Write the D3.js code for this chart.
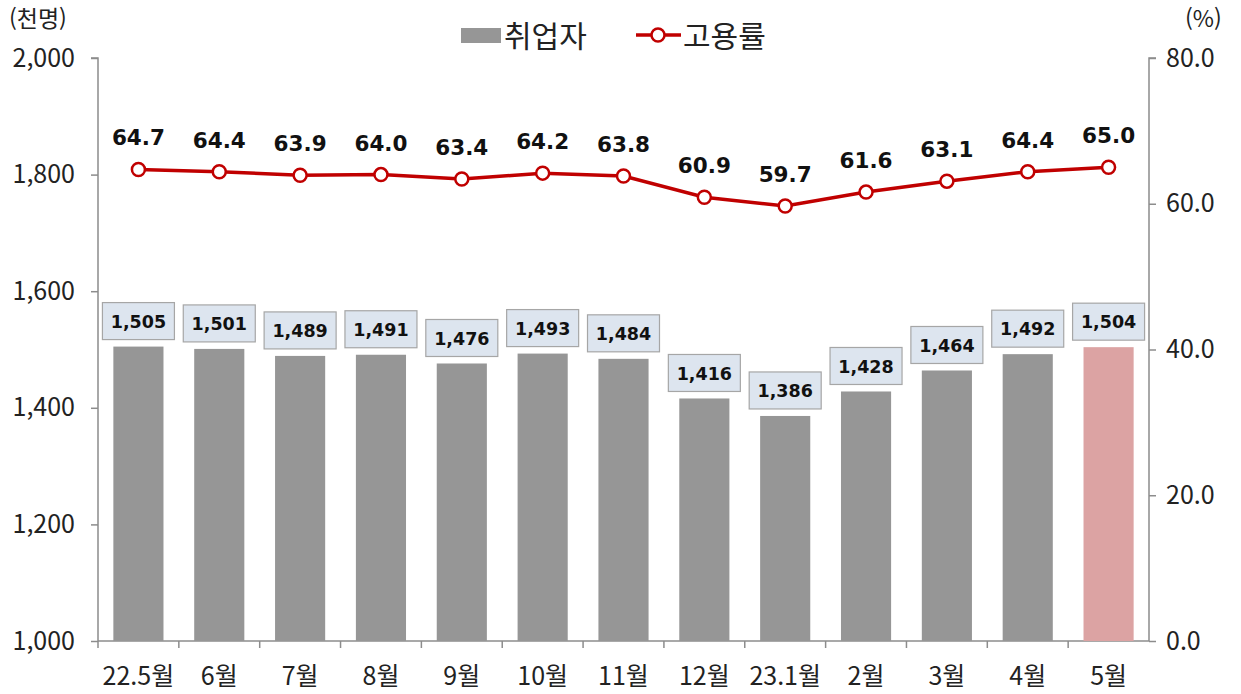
<!DOCTYPE html>
<html lang="ko">
<head>
<meta charset="UTF-8" />
<title>취업자 및 고용률</title>
<style>
  body { margin: 0; background: #fff; }
  svg text { font-family: "Noto Sans CJK KR", "Noto Sans", sans-serif; }
  .axis path, .axis line { stroke: #8c8c8c; stroke-width: 1.5; }
  .axis text { font-size: 25px; fill: #222; }
  .num { font-family: "DejaVu Sans", sans-serif !important; font-weight: bold; fill: #111; }
</style>
</head>
<body>
<svg id="chart" width="1241" height="694"></svg>
<script src="https://cdn.jsdelivr.net/npm/d3@7"></script>
<script>
// data
const months = ["22.5월", "6월", "7월", "8월", "9월", "10월", "11월", "12월", "23.1월", "2월", "3월", "4월", "5월"];
const employed = [1505, 1501, 1489, 1491, 1476, 1493, 1484, 1416, 1386, 1428, 1464, 1492, 1504];
const empRate = [64.7, 64.4, 63.9, 64.0, 63.4, 64.2, 63.8, 60.9, 59.7, 61.6, 63.1, 64.4, 65.0];
const leftTicks = [1000, 1200, 1400, 1600, 1800, 2000];
const rightTicks = [0, 20, 40, 60, 80];

const svg = d3.select("#chart");
const plotL = 98, plotR = 1149, plotT = 58, plotB = 641;

const x = d3.scaleBand().domain(months).range([plotL, plotR]).paddingInner(0.38).paddingOuter(0.19);
const xb = d3.scaleBand().domain(months).range([plotL, plotR]);
const yL = d3.scaleLinear().domain([1000, 2000]).range([plotB, plotT]);
const yR = d3.scaleLinear().domain([0, 80]).range([plotB, plotT]);

// axes
svg.append("g").attr("class", "axis")
  .attr("transform", `translate(${plotL},0)`)
  .call(d3.axisLeft(yL).tickValues(leftTicks).tickFormat(d3.format(",")).tickSize(7).tickPadding(16))
  .select(".domain").attr("d", `M-7,${plotT}H0V${plotB}`);

svg.append("g").attr("class", "axis")
  .attr("transform", `translate(${plotR},0)`)
  .call(d3.axisRight(yR).tickValues(rightTicks).tickFormat(d3.format(".1f")).tickSize(7).tickPadding(10))
  .select(".domain").attr("d", `M7,${plotT}H0V${plotB}`);

// bottom axis, ticks at category boundaries
const xAxis = svg.append("g").attr("class", "axis").attr("transform", `translate(0,${plotB})`);
xAxis.append("line").attr("x1", plotL).attr("x2", plotR).attr("y1", 0).attr("y2", 0);
xAxis.selectAll(".bt").data(months).enter().append("line")
  .attr("x1", d => xb(d)).attr("x2", d => xb(d)).attr("y1", 0).attr("y2", 7);
xAxis.selectAll(".lbl").data(months).enter().append("text")
  .attr("x", d => xb(d) + xb.bandwidth() / 2).attr("y", 44)
  .attr("font-size", 24)
  .attr("text-anchor", "middle").text(d => d);

// bars
svg.selectAll(".bar").data(employed).enter().append("rect")
  .attr("x", (d, i) => x(months[i]))
  .attr("y", d => yL(d))
  .attr("width", x.bandwidth())
  .attr("height", d => plotB - yL(d))
  .attr("fill", (d, i) => i === months.length - 1 ? "#dca3a3" : "#969696");

// bar labels in boxes
const fmt = d3.format(",");
const bl = svg.selectAll(".blab").data(employed).enter().append("g")
  .attr("transform", (d, i) => `translate(${x(months[i]) + x.bandwidth() / 2},${yL(d) - 25})`);
bl.append("rect").attr("x", -36).attr("y", -19).attr("width", 72).attr("height", 37)
  .attr("fill", "#dde5ef").attr("stroke", "#a6a6a6").attr("stroke-width", 1.2);
bl.append("text").attr("class", "num").attr("text-anchor", "middle").attr("dy", "0.36em")
  .attr("font-size", 17.5)
  .text(d => fmt(d));

// line
const cx = (d, i) => x(months[i]) + x.bandwidth() / 2;
const line = d3.line().x(cx).y(d => yR(d));
svg.append("path").datum(empRate).attr("d", line)
  .attr("fill", "none").attr("stroke", "#c00000").attr("stroke-width", 3.5);
svg.selectAll(".pt").data(empRate).enter().append("circle")
  .attr("cx", cx).attr("cy", d => yR(d)).attr("r", 6.5)
  .attr("fill", "#fff").attr("stroke", "#c00000").attr("stroke-width", 2.5);
svg.selectAll(".plab").data(empRate).enter().append("text")
  .attr("class", "num")
  .attr("x", cx).attr("y", d => yR(d) - 24)
  .attr("text-anchor", "middle").attr("font-size", 21.5)
  .text(d => d.toFixed(1));

// unit labels
svg.append("text").attr("x", 9).attr("y", 27).attr("font-size", 23).attr("fill", "#222").text("(천명)");
svg.append("text").attr("x", 1185).attr("y", 27).attr("font-size", 23).attr("fill", "#222").text("(%)");

// legend
const lg = svg.append("g");
lg.append("rect").attr("x", 461).attr("y", 28).attr("width", 40).attr("height", 15).attr("fill", "#969696");
lg.append("text").attr("x", 504).attr("y", 47).attr("font-size", 30).attr("fill", "#222").text("취업자");
lg.append("line").attr("x1", 636).attr("x2", 681).attr("y1", 35).attr("y2", 35)
  .attr("stroke", "#c00000").attr("stroke-width", 3.5);
lg.append("circle").attr("cx", 658).attr("cy", 35).attr("r", 6.5)
  .attr("fill", "#fff").attr("stroke", "#c00000").attr("stroke-width", 2.5);
lg.append("text").attr("x", 683).attr("y", 47).attr("font-size", 30).attr("fill", "#222").text("고용률");
</script>
</body>
</html>
